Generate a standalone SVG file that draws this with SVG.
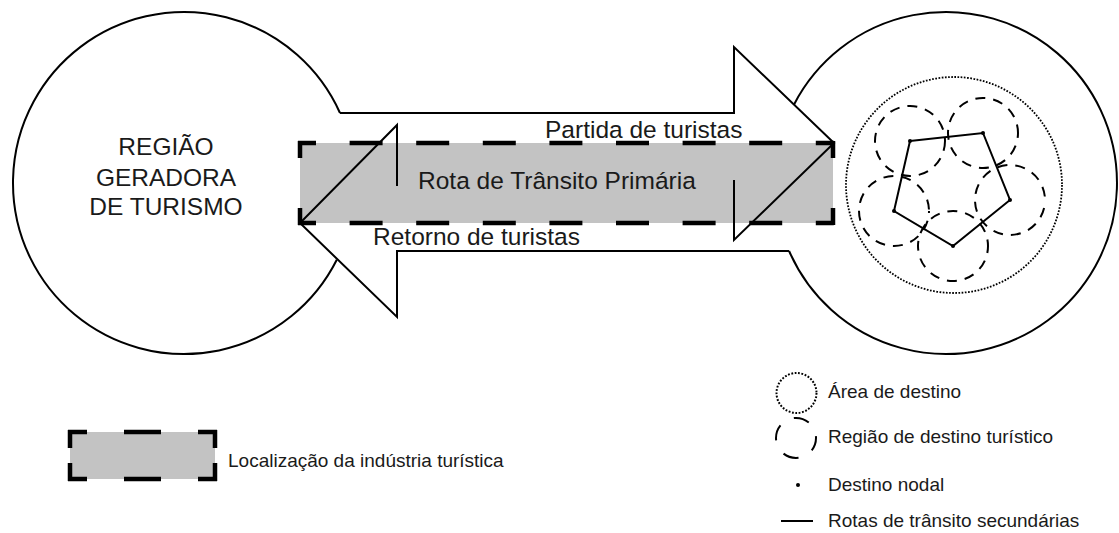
<svg xmlns="http://www.w3.org/2000/svg" width="1119" height="533" viewBox="0 0 1119 533">
<style>
text{font-family:"Liberation Sans",Arial,sans-serif;fill:#1a1a1a}
.big{font-size:24.5px}
.leg{font-size:19px}
.ln{fill:none;stroke:#000;stroke-width:2;stroke-linejoin:miter}
.dsh{fill:none;stroke:#000;stroke-width:2;stroke-dasharray:10 8}
.dot{fill:none;stroke:#000;stroke-width:1.8;stroke-dasharray:1.7 1.5}
.bd{stroke:#000;stroke-width:4.5;fill:none}
.band{fill:#c3c3c3}
</style>
<rect width="1119" height="533" fill="#fff"/>
<g id="band">
<rect class="band" x="300" y="143" width="533" height="80"/>
<line class="bd" x1="298" y1="143" x2="835" y2="143" stroke-dasharray="18 33.6 33 33.6 33 33.6 33 33.6 33 33.6 33 33.6 33 33.6 33 33.6 18 100"/>
<line class="bd" x1="298" y1="223" x2="835" y2="223" stroke-dasharray="18 33.6 33 33.6 33 33.6 33 33.6 33 33.6 33 33.6 33 33.6 33 33.6 18 100"/>
<line class="bd" x1="300" y1="141" x2="300" y2="225" stroke-dasharray="17 50 17 100"/>
<line class="bd" x1="833" y1="141" x2="833" y2="225" stroke-dasharray="17 50 17 100"/>
<text class="big" x="418" y="189">Rota de Trânsito Primária</text>
</g>
<g id="origin">
<path class="ln" d="M340 113 A171 171 0 1 0 336.8 259.8"/>
<text class="big" text-anchor="middle" x="166" y="155">REGIÃO</text>
<text class="big" text-anchor="middle" x="166" y="186">GERADORA</text>
<text class="big" text-anchor="middle" x="166" y="215">DE TURISMO</text>
</g>
<g id="destination">
<path class="ln" d="M794.2 104.2 A171 171 0 1 1 789.1 251"/>
<circle class="dot" cx="954" cy="185" r="108"/>
<g id="regions">
<circle class="dsh" cx="910" cy="141" r="35"/>
<circle class="dsh" cx="983" cy="133" r="35" stroke-dashoffset="5"/>
<circle class="dsh" cx="1010" cy="200" r="35" stroke-dashoffset="10"/>
<circle class="dsh" cx="953" cy="246" r="35" stroke-dashoffset="3"/>
<circle class="dsh" cx="894" cy="211" r="35" stroke-dashoffset="8"/>
</g>
<polygon class="ln" points="910,141 983,133 1010,200 953,246 894,211"/>
<g fill="#000">
<circle cx="910" cy="141" r="2"/><circle cx="983" cy="133" r="2"/><circle cx="1010" cy="200" r="2"/><circle cx="953" cy="246" r="2"/><circle cx="894" cy="211" r="2"/>
</g>
</g>
<g id="connectors">
<polyline class="ln" points="340,113 734,113 734,47 834,143 734,240 734,180"/>
<polyline class="ln" points="789.1,251 397,251 397,317 300,223 397,125 397,186"/>
</g>
<g id="labels">
<text class="big" x="545" y="138">Partida de turistas</text>
<text class="big" x="373" y="245">Retorno de turistas</text>
</g>
<g id="legend">
<g id="leg-industry">
<rect class="band" x="70" y="432" width="145" height="47"/>
<line class="bd" x1="68" y1="432" x2="217" y2="432" stroke-dasharray="19 37 37 37 19 100"/>
<line class="bd" x1="68" y1="479" x2="217" y2="479" stroke-dasharray="19 37 37 37 19 100"/>
<line class="bd" x1="70" y1="430" x2="70" y2="481" stroke-dasharray="18 15 18 100"/>
<line class="bd" x1="215" y1="430" x2="215" y2="481" stroke-dasharray="18 15 18 100"/>
<text class="leg" x="228" y="467">Localização da indústria turística</text>
</g>
<g id="leg-area">
<circle cx="796.5" cy="393" r="20" fill="none" stroke="#000" stroke-width="2" stroke-dasharray="1.8 1.6"/>
<text class="leg" x="828" y="398">Área de destino</text>
</g>
<g id="leg-region">
<circle cx="796" cy="438" r="20" fill="none" stroke="#000" stroke-width="2" stroke-dasharray="16 15.4" stroke-dashoffset="2.8"/>
<text class="leg" x="828" y="443">Região de destino turístico</text>
</g>
<g id="leg-node">
<circle cx="798" cy="485" r="2" fill="#000"/>
<text class="leg" x="828" y="491">Destino nodal</text>
</g>
<g id="leg-route">
<line x1="781" y1="521" x2="813" y2="521" stroke="#000" stroke-width="2"/>
<text class="leg" x="828" y="527">Rotas de trânsito secundárias</text>
</g>
</g>
</svg>
